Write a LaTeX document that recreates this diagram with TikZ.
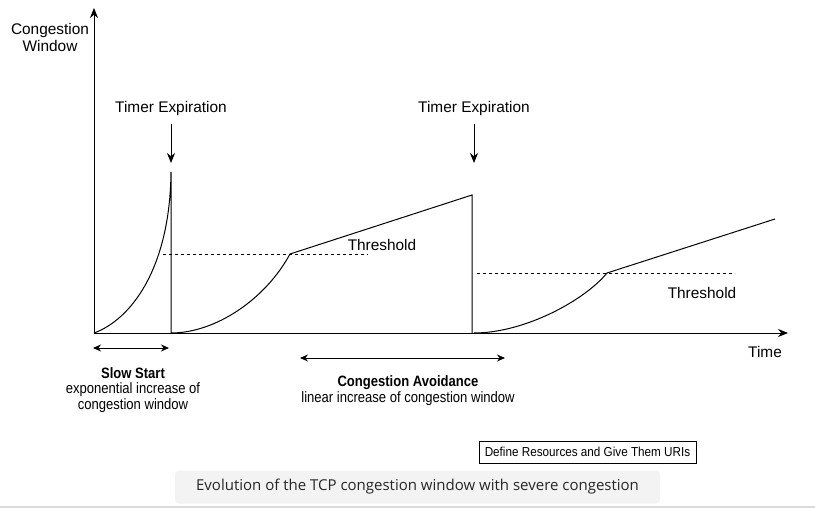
\documentclass[tikz,border=0pt]{standalone}
\usepackage{fontspec}
\setmainfont{Liberation Sans}
\newfontfamily\narrowfont[FakeStretch=0.87]{Liberation Sans}
\newfontfamily\boxfont[FakeStretch=0.9]{Liberation Sans}
\newfontfamily\captionfont{Open Sans}
\usetikzlibrary{arrows.meta}

\definecolor{captiongray}{HTML}{F3F3F3}
\definecolor{rulegray}{HTML}{DCDCDC}

\tikzset{
  curve/.style={line width=1pt},
  thresh/.style={dash pattern=on 3pt off 3pt, line width=0.8pt},
  lbl/.style={font=\fontsize{15.4}{17}\selectfont, inner sep=0pt, align=center},
  phase/.style={font=\narrowfont\fontsize{15}{15.5}\selectfont, inner sep=0pt, align=center},
  span/.style={{Stealth[length=8pt,width=7pt]}-{Stealth[length=8pt,width=7pt]}, line width=1pt},
  axis/.style={-{Stealth[length=10pt,width=8pt]}, line width=1pt},
}

\begin{document}
\begin{tikzpicture}[x=1pt, y=-1pt]
  \useasboundingbox (0,0) rectangle (815,508);

  % axes
  \coordinate (O) at (94,333);
  \coordinate (xend) at (788,333);
  \coordinate (yend) at (94,8);
  \draw[axis] (O) -- (xend);
  \draw[axis] (O) -- (yend);
  \node[lbl] (cwnd) at (50,37) {Congestion\\Window};
  \node[lbl] (time) at (765,352) {Time};

  % slow start, then timeout
  \coordinate (peak1) at (171,172);
  \coordinate (drop1) at (171,333);
  \draw[curve] (O) .. controls (130,320) and (170,270) .. (peak1) -- (drop1);

  % second round
  \coordinate (th1) at (290,254);
  \coordinate (peak2) at (472,195);
  \coordinate (drop2) at (472,333);
  \draw[curve] (drop1) .. controls (215,333) and (265,300) .. (th1) -- (peak2) -- (drop2);

  % third round
  \coordinate (th2) at (607,273);
  \coordinate (last) at (775,219);
  \draw[curve] (474,333) .. controls (525,333) and (585,300) .. (th2) -- (last);

  % thresholds
  \draw[thresh] (163,254) -- (368,254);
  \draw[thresh] (477,273) -- (735,273);
  \node[lbl] (thr1) at (382,245) {Threshold};
  \node[lbl] (thr2) at (702,293) {Threshold};

  % timer expirations
  \node[lbl] (timer1) at (171,109) {Timer Expiration};
  \node[lbl] (timer2) at (474,109) {Timer Expiration};
  \coordinate (tip1) at (171,163);
  \coordinate (tip2) at (474,163);
  \draw[axis] ([yshift=-8pt]timer1.south) -- (tip1);
  \draw[axis] ([yshift=-8pt]timer2.south) -- (tip2);

  % phases
  \coordinate (ssA) at (93,348);
  \coordinate (ssB) at (169,348);
  \draw[span] (ssA) -- (ssB);
  \node[phase] (slow) at (133,390) {\textbf{Slow Start}\\exponential increase of\\congestion window};

  \coordinate (caA) at (300,358);
  \coordinate (caB) at (505,358);
  \draw[span] (caA) -- (caB);
  \node[phase] (avoid) at (408,390.5) {\textbf{Congestion Avoidance}\\linear increase of congestion window};

  % boxes at the bottom
  \node[draw, line width=0.8pt, minimum width=217pt, minimum height=22pt,
        font=\boxfont\fontsize{13}{14}\selectfont] (uris) at (587.5,452) {Define Resources and Give Them URIs};
  \node[fill=captiongray, rounded corners=4pt, minimum width=485pt, minimum height=33pt,
        font=\captionfont\fontsize{15}{18}\selectfont, text=black!85] (caption) at (417.5,487)
        {Evolution of the TCP congestion window with severe congestion};
  \draw[rulegray, line width=1.5pt] (0,507) -- (815,507);
\end{tikzpicture}
\end{document}
